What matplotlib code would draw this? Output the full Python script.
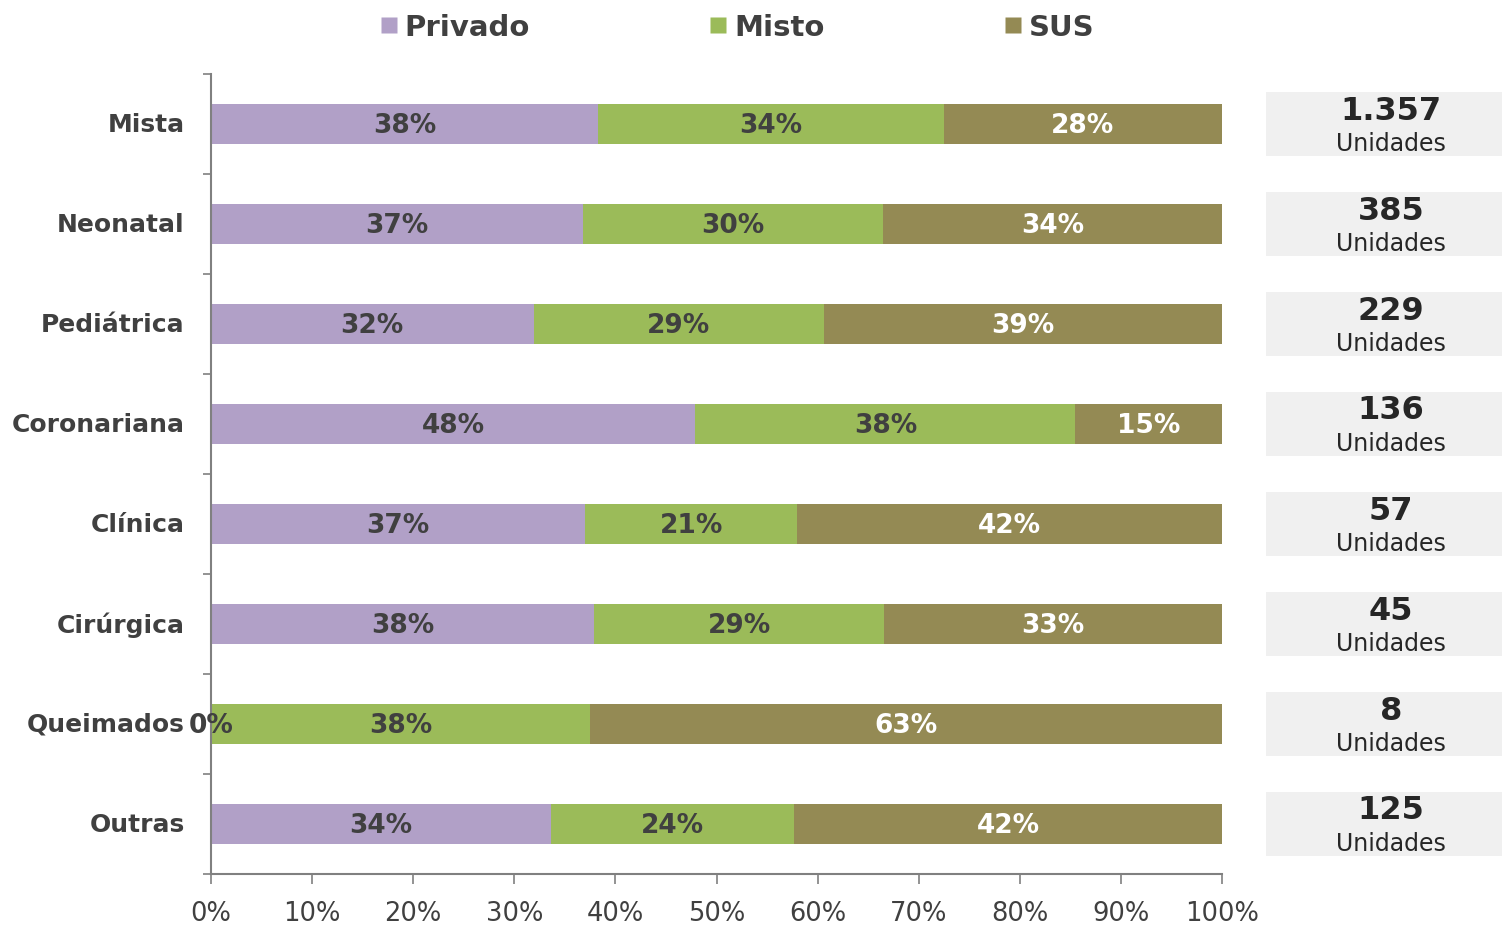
import math
import matplotlib.pyplot as plt
from matplotlib.lines import Line2D
from matplotlib.ticker import MultipleLocator, FuncFormatter

categorias = ['Mista', 'Neonatal', 'Pediátrica', 'Coronariana', 'Clínica',
              'Cirúrgica', 'Queimados', 'Outras']
privado = [38.3, 36.8, 31.9, 47.9, 37.0, 37.9, 0.0, 33.6]
misto = [34.2, 29.7, 28.7, 37.6, 21.0, 28.7, 37.5, 24.1]
sus = [27.5, 33.5, 39.4, 14.5, 42.0, 33.4, 62.5, 42.3]
unidades = ['1.357', '385', '229', '136', '57', '45', '8', '125']

series = ['Privado', 'Misto', 'SUS']
cores = ['#b1a0c7', '#9bbb59', '#948a54']
cor_texto = ['#404040', '#404040', 'white']
escuro = '#404040'

W, H = 1502, 928
fig = plt.figure(figsize=(W / 100, H / 100), dpi=100)
ax = fig.add_axes([211 / W, (H - 875) / H, (1222 - 211) / W, 800 / H])

y = list(range(len(categorias)))
esq = [0.0] * len(categorias)
for nome, vals, cor, ct in zip(series, [privado, misto, sus], cores, cor_texto):
    ax.barh(y, vals, left=esq, height=0.4, color=cor, label=nome)
    for i, v in enumerate(vals):
        ax.text(esq[i] + v / 2, i + 0.01, '%d%%' % math.floor(v + 0.5), ha='center',
                va='center', fontsize=19, fontweight='bold', color=ct)
    esq = [a + b for a, b in zip(esq, vals)]

ax.set_xlim(0, 100)
ax.set_ylim(len(categorias) - 0.5, -0.5)
ax.xaxis.set_major_locator(MultipleLocator(10))
ax.xaxis.set_major_formatter(FuncFormatter(lambda v, p: '%d%%' % v))
ax.set_yticks(y)
ax.set_yticklabels(categorias, fontsize=18, fontweight='bold', color=escuro,
                   va='center')
ax.set_yticks([i - 0.5 for i in range(len(categorias) + 1)], minor=True)
ax.tick_params(axis='y', which='major', length=0, pad=19)
ax.tick_params(axis='y', which='minor', length=6, color='#808080', width=1.2)
ax.tick_params(axis='x', length=7, color='#808080', width=1.2, labelsize=18.5,
               labelcolor=escuro, pad=12)
for s in ['top', 'right']:
    ax.spines[s].set_visible(False)
for s in ['left', 'bottom']:
    ax.spines[s].set_color('#808080')
    ax.spines[s].set_linewidth(1.5)

# caixas com total de unidades
ax2 = fig.add_axes([1266 / W, (H - 875) / H, (W - 1266) / W, 800 / H], sharey=ax)
ax2.barh(y, [1] * len(y), height=0.64, color='#f0f0f0')
for i, u in enumerate(unidades):
    ax2.text(0.53, i - 0.14, u, ha='center', va='center', fontsize=23,
             fontweight='bold', color='#262626')
    ax2.text(0.53, i + 0.19, 'Unidades', ha='center', va='center',
             fontsize=17, color='#262626')
ax2.set_xlim(0, 1)
ax2.axis('off')

handles = [Line2D([], [], marker='s', linestyle='none', markersize=11,
                  markerfacecolor=c, markeredgecolor='none') for c in cores]
leg = fig.legend(handles, series, loc='center', bbox_to_anchor=(738 / W, 1 - 28 / H),
                 ncol=3, frameon=False, handlelength=0.5, handletextpad=0.3,
                 columnspacing=6.2, prop={'size': 21, 'weight': 'bold'})
for t in leg.get_texts():
    t.set_color(escuro)

fig.savefig('out.png', dpi=100)
